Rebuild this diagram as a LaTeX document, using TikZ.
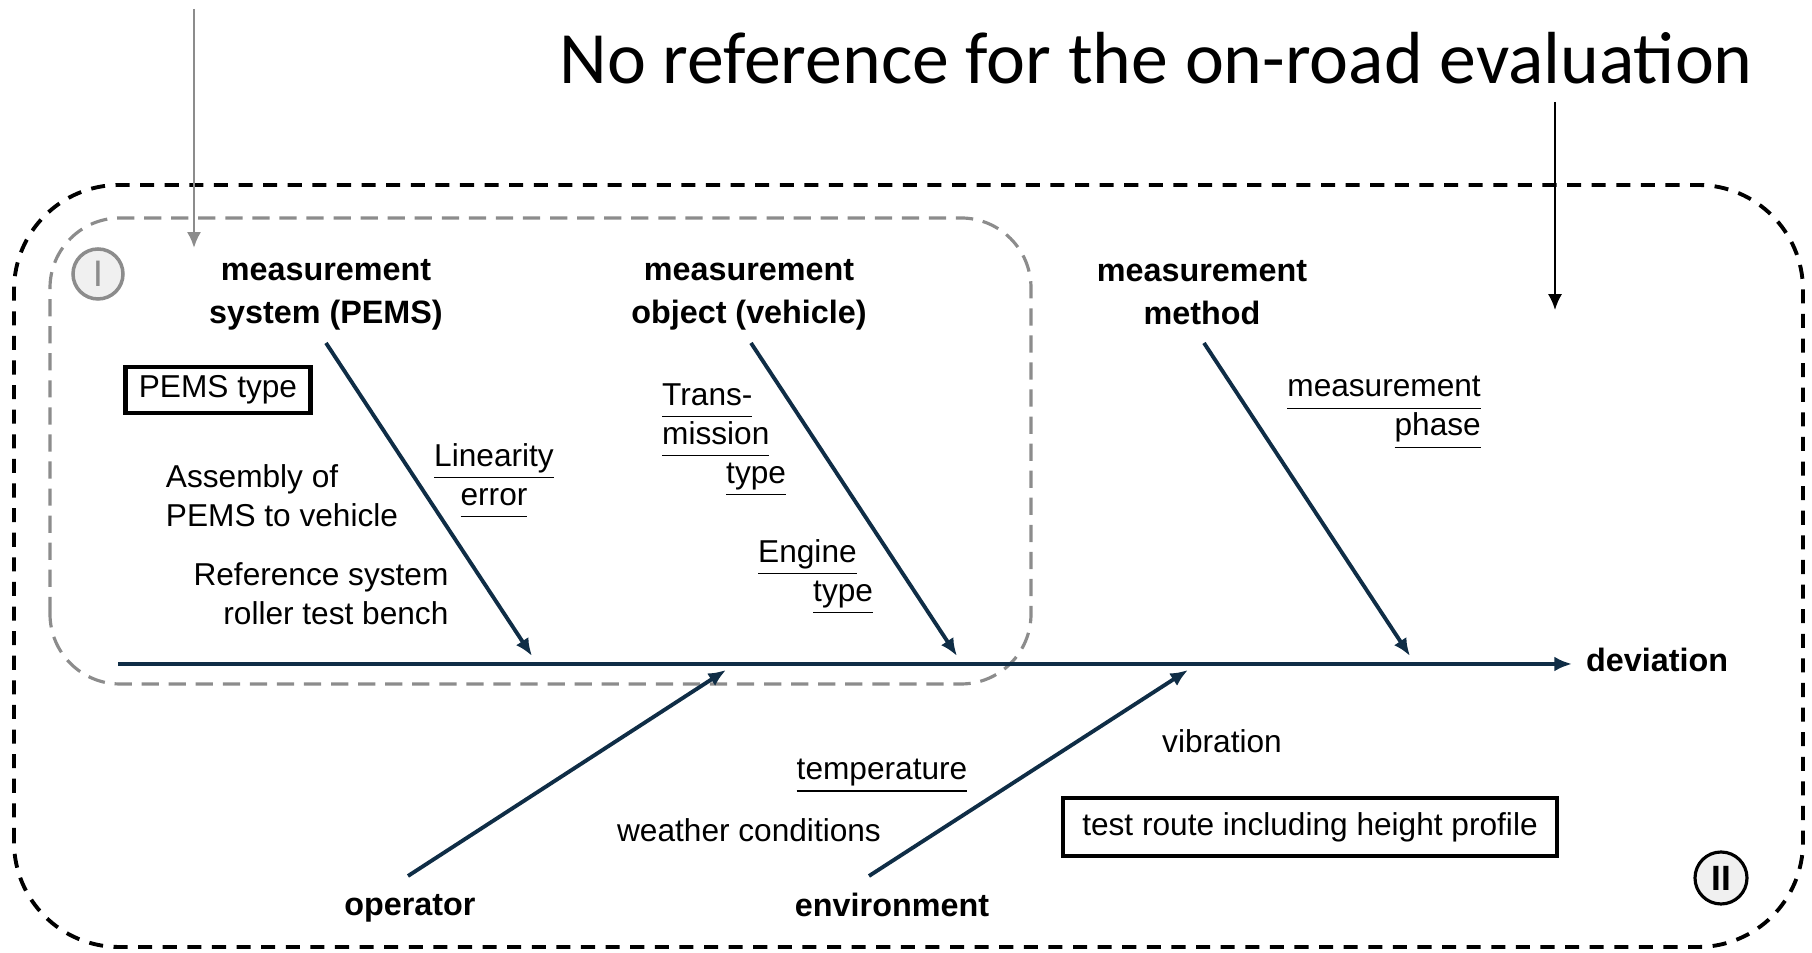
\documentclass[tikz,border=0pt]{standalone}
\usepackage{fontspec}
\setmainfont{Liberation Sans}
\newfontfamily\titlefont{Carlito}
\usetikzlibrary{arrows.meta}
\definecolor{spine}{RGB}{15,45,70}
\definecolor{framegray}{RGB}{140,140,140}
\newcommand{\ulword}[1]{\underline{\vphantom{y}#1}}

\begin{document}
\begin{tikzpicture}[
		head/.style = {font=\fontsize{9.2}{12.2}\selectfont\bfseries, align=center, inner sep=1pt},
		cause/.style = {font=\fontsize{9}{11.1}\selectfont, inner sep=1pt},
		tag/.style = {cause, draw, line width=1.2pt},
		bone/.style = {spine, line width=1.1pt, -{Latex[length=5pt, width=4.2pt]}},
		zone/.style = {circle, minimum size=0.48cm, inner sep=0pt, fill=black!6}
	]
	\useasboundingbox (0, 0) rectangle (18.12, 9.53);
	
	\node[font=\titlefont\fontsize{21}{24}\selectfont, anchor=base] (title) at (11.56, 8.69) {No reference for the on-road evaluation};
	
	% the two regions
	\draw[line width=1.1pt, dash pattern=on 4pt off 3pt, rounded corners=1.05cm] (0.14, 0.06) rectangle (18.03, 7.68);
	\draw[framegray, line width=0.9pt, dash pattern=on 4.9pt off 2.8pt, rounded corners=0.7cm] (0.50, 2.69) rectangle (10.31, 7.35);
	\node[zone, draw=framegray, line width=1pt, minimum size=0.5cm, text=framegray, font=\fontsize{10.5}{12}\selectfont] (zoneI) at (0.98, 6.79) {I};
	\node[zone, draw=black, line width=0.9pt, minimum size=0.52cm, font=\fontsize{10}{12}\selectfont\bfseries] (zoneII) at (17.21, 0.75) {II};
	
	\coordinate (grayTop) at (1.94, 9.44);
	\coordinate (grayTip) at (1.94, 7.05);
	\draw[framegray, line width=0.7pt, -{Latex[length=4.5pt, width=4pt]}] (grayTop) -- (grayTip);
	\coordinate (blackTop) at (15.55, 8.51);
	\coordinate (blackTip) at (15.55, 6.43);
	\draw[line width=0.6pt, -{Latex[length=4.5pt, width=4pt]}] (blackTop) -- (blackTip);
	
	% spine
	\node[head, anchor=west] (deviation) at (15.82, 2.93) {deviation};
	\coordinate (spineStart) at (1.18, 2.89);
	\coordinate (spineEnd) at (15.72, 2.89);
	\draw[bone] (spineStart) -- (spineEnd);
	
	% main causes
	\node[head] (pems) at (3.26, 6.585) {measurement\\system (PEMS)};
	\node[head] (vehicle) at (7.49, 6.585) {measurement\\object (vehicle)};
	\node[head] (method) at (12.02, 6.60) {measurement\\method};
	\node[head] (operator) at (4.10, 0.445) {operator};
	\node[head] (environment) at (8.92, 0.48) {environment};
	
	\foreach \cause/\tx/\hx in {pems/3.26/5.32, vehicle/7.51/9.57, method/12.04/14.10} {
		\coordinate (\cause Tail) at (\tx, 6.10);
		\coordinate (\cause Tip) at (\hx, 2.97);
		\draw[bone] (\cause Tail) -- (\cause Tip);
	}
	\foreach \cause/\tx/\hx in {operator/4.08/7.26, environment/8.69/11.88} {
		\coordinate (\cause Tail) at (\tx, 0.77);
		\coordinate (\cause Tip) at (\hx, 2.83);
		\draw[bone] (\cause Tail) -- (\cause Tip);
	}
	
	% sub causes
	\node[tag, inner xsep=3.8pt, inner ysep=2.4pt] (pemsType) at (2.18, 5.63) {PEMS type};
	\node[cause, align=center] (linearity) at (4.94, 4.72) {\ulword{Linearity}\\\ulword{error}};
	\node[cause, align=left] (assembly) at (2.82, 4.57) {Assembly of\\PEMS to vehicle};
	\node[cause, align=right] (reference) at (3.21, 3.59) {Reference system\\roller test bench};
	\node[cause, align=left, anchor=west] (transmission) at (6.58, 5.13) {\ulword{Trans-}\\\ulword{mission}\\\hspace*{0.64cm}\ulword{type}};
	\node[cause, align=left, anchor=west] (engine) at (7.54, 3.76) {\ulword{Engine}\\\hspace*{0.55cm}\ulword{type}};
	\node[cause, align=right, anchor=east] (phase) at (14.85, 5.40) {\ulword{measurement}\\\ulword{phase}};
	\node[cause] (temperature) at (8.82, 1.77) {\ulword{temperature}};
	\node[cause] (weather) at (7.49, 1.23) {weather conditions};
	\node[cause] (vibration) at (12.22, 2.12) {vibration};
	\node[tag, inner xsep=5.5pt, inner ysep=4pt] (route) at (13.10, 1.26) {test route including height profile};
\end{tikzpicture}
\end{document}
